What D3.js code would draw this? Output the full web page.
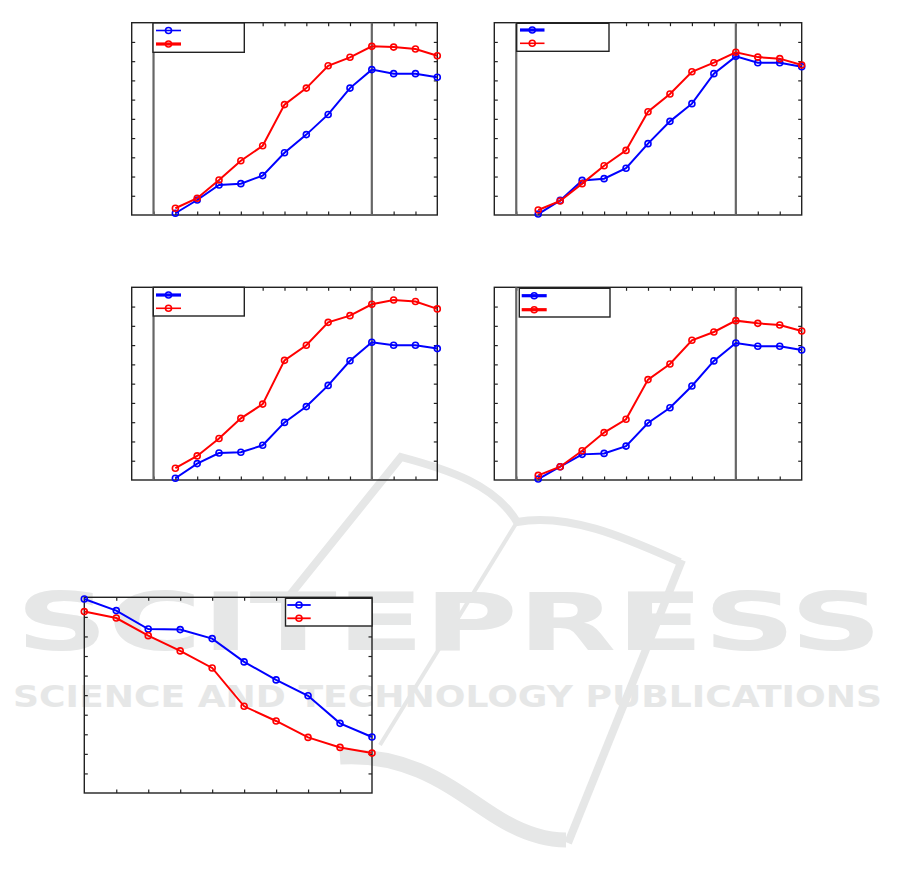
<!DOCTYPE html>
<html>
<head>
<meta charset="utf-8">
<script src="https://cdn.jsdelivr.net/npm/d3@7"></script>
<style>
  html, body { margin: 0; padding: 0; background: #fff; }
  svg { display: block; }
</style>
</head>
<body>
<div id="chart"></div>
<script>
// ---- data ----
const xTopPanels = [2, 3, 4, 5, 6, 7, 8, 9, 10, 11, 12, 13, 14];
const xBottomPanel = [0, 1, 2, 3, 4, 5, 6, 7, 8, 9];
const markerLinesX = [1, 11];
const xTicksTop = [1, 2, 3, 4, 5, 6, 7, 8, 9, 10, 11, 12, 13];
const xTicksBottom = [1, 2, 3, 4, 5, 6, 7, 8];
const yTicks = [1, 2, 3, 4, 5, 6, 7, 8, 9];

const p1Blue = [0.09, 0.78, 1.56, 1.63, 2.05, 3.24, 4.18, 5.23, 6.60, 7.56, 7.35, 7.35, 7.16];
const p1Red  = [0.35, 0.87, 1.82, 2.82, 3.60, 5.74, 6.60, 7.76, 8.20, 8.77, 8.73, 8.63, 8.28];
const p2Blue = [0.05, 0.76, 1.80, 1.89, 2.43, 3.71, 4.87, 5.79, 7.35, 8.25, 7.92, 7.92, 7.71];
const p2Red  = [0.26, 0.73, 1.63, 2.56, 3.36, 5.37, 6.29, 7.45, 7.92, 8.46, 8.21, 8.13, 7.80];
const p3Blue = [0.09, 0.85, 1.40, 1.44, 1.80, 2.99, 3.81, 4.91, 6.19, 7.15, 6.99, 6.99, 6.82];
const p3Red  = [0.61, 1.25, 2.15, 3.20, 3.94, 6.21, 6.99, 8.18, 8.53, 9.12, 9.34, 9.26, 8.88];
const p4Blue = [0.05, 0.69, 1.33, 1.38, 1.76, 2.96, 3.75, 4.88, 6.18, 7.11, 6.94, 6.94, 6.75];
const p4Red  = [0.24, 0.69, 1.52, 2.46, 3.15, 5.21, 6.02, 7.25, 7.68, 8.27, 8.13, 8.04, 7.73];
const p5Blue = [9.91, 9.32, 8.38, 8.35, 7.89, 6.70, 5.78, 4.97, 3.56, 2.86];
const p5Red  = [9.27, 8.94, 8.04, 7.26, 6.39, 4.43, 3.68, 2.84, 2.33, 2.04];

const BLUE = "#0000ff", RED = "#ff0000";

const svg = d3.select("#chart").append("svg")
  .attr("width", 901).attr("height", 881);

// ---- watermark (background) ----
const wm = svg.append("g").attr("fill", "none").attr("stroke", "#e6e7e7").attr("stroke-linecap", "butt");
wm.append("path").attr("stroke-width", 8)
  .attr("d", "M290,595 L401,457 C450,470 495,485 517,522 C570,512 630,540 680,562");
wm.append("path").attr("stroke-width", 8)
  .attr("d", "M682,560 L568,843");
wm.append("path").attr("stroke-width", 4)
  .attr("d", "M517,522 L380,745");
wm.append("path").attr("stroke-width", 15)
  .attr("d", "M340,757 C420,752 465,800 505,822 C530,836 548,840 566,840");
svg.append("text")
  .attr("x", 16).attr("y", 650)
  .attr("textLength", 866).attr("lengthAdjust", "spacingAndGlyphs")
  .attr("font-family", "DejaVu Sans").attr("font-weight", "bold")
  .attr("font-size", 80).attr("fill", "#e6e7e7")
  .text("SCITEPRESS");
svg.append("text")
  .attr("x", 13).attr("y", 706.5)
  .attr("textLength", 869).attr("lengthAdjust", "spacingAndGlyphs")
  .attr("font-family", "DejaVu Sans").attr("font-weight", "bold")
  .attr("font-size", 30).attr("fill", "#e6e7e7")
  .text("SCIENCE AND TECHNOLOGY PUBLICATIONS");

// ---- panel drawing ----
function panel(cfg) {
  const x = d3.scaleLinear().domain(cfg.xDomain).range([cfg.x0, cfg.x1]);
  const y = d3.scaleLinear().domain([0, 10]).range([cfg.y1, cfg.y0]);
  const g = svg.append("g");

  const tickLen = 3.5;
  // axes with inward ticks, no labels
  g.append("g").attr("transform", `translate(0,${cfg.y1})`)
    .call(d3.axisTop(x).tickValues(cfg.xTicks).tickSize(tickLen).tickFormat(""));
  g.append("g").attr("transform", `translate(0,${cfg.y0})`)
    .call(d3.axisBottom(x).tickValues(cfg.xTicks).tickSize(tickLen).tickFormat(""));
  g.append("g").attr("transform", `translate(${cfg.x0},0)`)
    .call(d3.axisRight(y).tickValues(yTicks).tickSize(tickLen).tickFormat(""));
  g.append("g").attr("transform", `translate(${cfg.x1},0)`)
    .call(d3.axisLeft(y).tickValues(yTicks).tickSize(tickLen).tickFormat(""));
  g.selectAll(".domain").remove();
  g.selectAll(".tick line").attr("stroke", "#222").attr("stroke-width", 1.2);

  // frame
  g.append("rect").attr("x", cfg.x0).attr("y", cfg.y0)
    .attr("width", cfg.x1 - cfg.x0).attr("height", cfg.y1 - cfg.y0)
    .attr("fill", "none").attr("stroke", "#222").attr("stroke-width", 1.4);

  // vertical marker lines
  (cfg.vlines || []).forEach(v => {
    g.append("line").attr("x1", x(v)).attr("x2", x(v))
      .attr("y1", cfg.y0).attr("y2", cfg.y1)
      .attr("stroke", "#666").attr("stroke-width", 2.2);
  });

  // series
  const line = d3.line().x(d => x(d[0])).y(d => y(d[1]));
  cfg.series.forEach(s => {
    const pts = cfg.xs.map((xv, i) => [xv, s.values[i]]);
    g.append("path").datum(pts).attr("d", line)
      .attr("fill", "none").attr("stroke", s.color).attr("stroke-width", 2);
    g.selectAll(null).data(pts).enter().append("circle")
      .attr("cx", d => x(d[0])).attr("cy", d => y(d[1])).attr("r", 3)
      .attr("fill", "none").attr("stroke", s.color).attr("stroke-width", 1.6);
  });

  // legend
  const L = cfg.legend;
  const lg = svg.append("g");
  lg.append("rect").attr("x", L.x0).attr("y", L.y0)
    .attr("width", L.x1 - L.x0).attr("height", L.y1 - L.y0)
    .attr("fill", "#fff").attr("stroke", "#222").attr("stroke-width", 1.4);
  cfg.series.forEach((s, i) => {
    const ry = L.rows[i];
    lg.append("line").attr("x1", L.lx0).attr("x2", L.lx1).attr("y1", ry).attr("y2", ry)
      .attr("stroke", s.color).attr("stroke-width", s.legendWidth);
    lg.append("circle").attr("cx", (L.lx0 + L.lx1) / 2).attr("cy", ry).attr("r", 3)
      .attr("fill", "none").attr("stroke", s.color).attr("stroke-width", 1.6);
  });
}

const topCommon = { xDomain: [0, 14], xTicks: xTicksTop, vlines: markerLinesX, xs: xTopPanels };

panel(Object.assign({}, topCommon, {
  x0: 131.7, x1: 437.3, y0: 22.7, y1: 215,
  series: [{ values: p1Blue, color: BLUE, legendWidth: 1.6 }, { values: p1Red, color: RED, legendWidth: 3.2 }],
  legend: { x0: 153, x1: 244.3, y0: 23, y1: 52.3, lx0: 156, lx1: 181, rows: [30.5, 44] }
}));
panel(Object.assign({}, topCommon, {
  x0: 494.3, x1: 801.7, y0: 22.7, y1: 215,
  series: [{ values: p2Blue, color: BLUE, legendWidth: 3.2 }, { values: p2Red, color: RED, legendWidth: 1.6 }],
  legend: { x0: 516.7, x1: 609, y0: 23.3, y1: 51.3, lx0: 520, lx1: 544.5, rows: [30, 43.3] }
}));
panel(Object.assign({}, topCommon, {
  x0: 131.7, x1: 437.3, y0: 287.3, y1: 480,
  series: [{ values: p3Blue, color: BLUE, legendWidth: 3.2 }, { values: p3Red, color: RED, legendWidth: 1.6 }],
  legend: { x0: 153.3, x1: 244.3, y0: 287.3, y1: 316, lx0: 156, lx1: 181, rows: [295, 308.3] }
}));
panel(Object.assign({}, topCommon, {
  x0: 494.3, x1: 801.7, y0: 287.3, y1: 480,
  series: [{ values: p4Blue, color: BLUE, legendWidth: 3.2 }, { values: p4Red, color: RED, legendWidth: 3.2 }],
  legend: { x0: 519.3, x1: 610, y0: 288.3, y1: 317, lx0: 521.7, lx1: 546.7, rows: [295.7, 309.7] }
}));
panel({
  xDomain: [0, 9], xTicks: xTicksBottom, vlines: [], xs: xBottomPanel,
  x0: 84.3, x1: 372, y0: 597.3, y1: 793,
  series: [{ values: p5Blue, color: BLUE, legendWidth: 1.8 }, { values: p5Red, color: RED, legendWidth: 1.8 }],
  legend: { x0: 285.5, x1: 372, y0: 598.3, y1: 626, lx0: 287.3, lx1: 310.7, rows: [605, 618.3] }
});
</script>
</body>
</html>
